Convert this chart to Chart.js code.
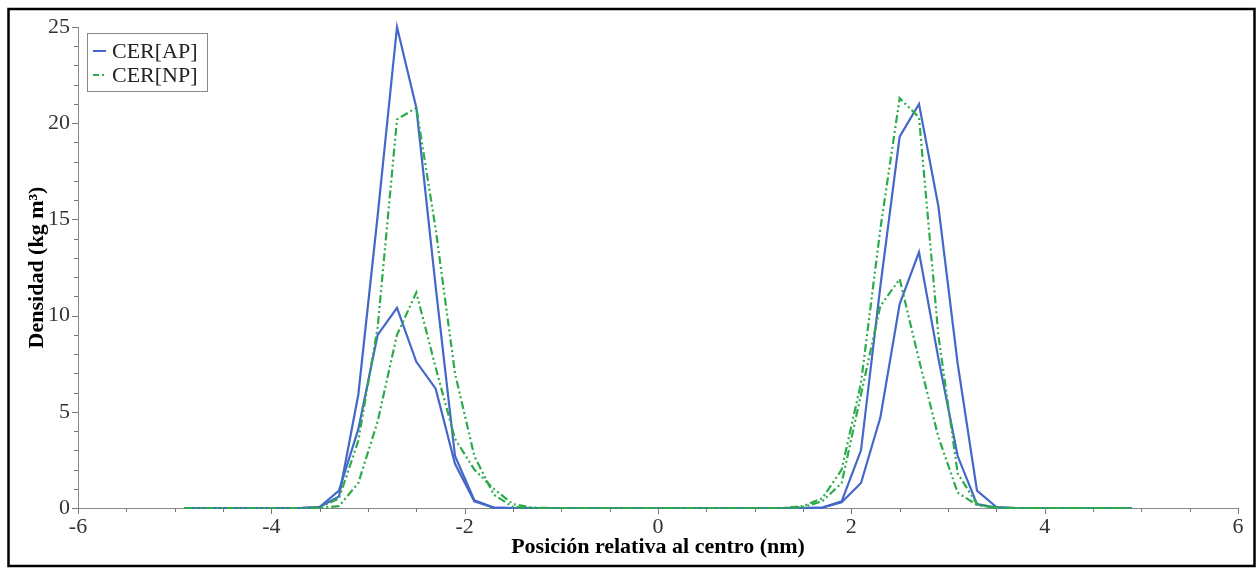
<!DOCTYPE html>
<html>
<head>
<meta charset="utf-8">
<title>Densidad CER</title>
<script src="https://cdn.jsdelivr.net/npm/chart.js@4.4.1/dist/chart.umd.min.js"></script>
<style>
  html, body { margin: 0; padding: 0; background: #fff; }
  #contenedor { width: 1257px; height: 568px; position: relative; }
</style>
</head>
<body>
<div id="contenedor"><canvas id="grafica"></canvas></div>
<script>
// posiciones (nm)
const posiciones = [
  -4.9, -4.7, -4.5, -4.3, -4.1, -3.9, -3.7, -3.5, -3.3, -3.1,
  -2.9, -2.7, -2.5, -2.3, -2.1, -1.9, -1.7, -1.5, -1.3, -1.1,
  -0.9, -0.7, -0.5, -0.3, -0.1, 0.1, 0.3, 0.5, 0.7, 0.9,
  1.1, 1.3, 1.5, 1.7, 1.9, 2.1, 2.3, 2.5, 2.7, 2.9,
  3.1, 3.3, 3.5, 3.7, 3.9, 4.1, 4.3, 4.5, 4.7, 4.9
];

// CER[AP], curva alta y curva baja
const apAlta = [
  0, 0, 0, 0, 0, 0, 0, 0.05, 0.6, 5.9,
  15.2, 25.0, 20.8, 11.5, 2.7, 0.4, 0.02, 0, 0, 0,
  0, 0, 0, 0, 0, 0, 0, 0, 0, 0,
  0, 0, 0, 0.02, 0.35, 3.0, 11.5, 19.3, 21.0, 15.7,
  7.5, 0.9, 0.05, 0, 0, 0, 0, 0, 0, 0
];
const apBaja = [
  0, 0, 0, 0, 0, 0, 0, 0.05, 0.9, 4.1,
  9.0, 10.4, 7.6, 6.2, 2.3, 0.35, 0.02, 0, 0, 0,
  0, 0, 0, 0, 0, 0, 0, 0, 0, 0,
  0, 0, 0, 0.02, 0.3, 1.3, 4.7, 10.6, 13.3, 7.8,
  2.7, 0.2, 0.02, 0, 0, 0, 0, 0, 0, 0
];

// CER[NP], curva alta y curva baja
const npAlta = [
  0, 0, 0, 0, 0, 0, 0, 0.02, 0.5, 3.5,
  9.4, 20.2, 20.8, 14.5, 7.0, 2.7, 0.7, 0.05, 0, 0,
  0, 0, 0, 0, 0, 0, 0, 0, 0, 0,
  0, 0, 0.1, 0.5, 2.0, 6.5, 14.5, 21.3, 20.3, 9.0,
  1.8, 0.2, 0.02, 0, 0, 0, 0, 0, 0, 0
];
const npBaja = [
  0, 0, 0, 0, 0, 0, 0, 0, 0.1, 1.3,
  4.5, 9.0, 11.2, 7.3, 3.6, 2.0, 1.0, 0.2, 0.02, 0,
  0, 0, 0, 0, 0, 0, 0, 0, 0, 0,
  0, 0, 0.05, 0.35, 1.3, 5.9, 10.5, 11.9, 7.7, 3.7,
  0.8, 0.15, 0, 0, 0, 0, 0, 0, 0, 0
];

const etiquetas = ['CER[AP]', 'CER[NP]'];

const AZUL = '#4468c8';
const VERDE = '#2bab4b';
const TRAZO_NP = [8, 3, 2, 3, 2, 3];
const FUENTE = "'Liberation Serif', 'Times New Roman', serif";

function puntos(valores) {
  return posiciones.map((x, i) => ({ x, y: valores[i] }));
}

function serie(valores, color, trazo, orden) {
  return {
    data: puntos(valores),
    borderColor: color,
    borderWidth: 2.2,
    borderDash: trazo,
    pointRadius: 0,
    tension: 0,
    fill: false,
    clip: false,
    order: orden
  };
}

// marco exterior, marcas de ejes y leyenda
const decorado = {
  id: 'decorado',
  afterDraw(chart) {
    const { ctx, scales: { x, y } } = chart;
    ctx.save();

    ctx.strokeStyle = '#777';
    ctx.lineWidth = 1;
    ctx.beginPath();
    x.ticks.forEach(t => {
      const px = Math.round(x.getPixelForValue(t.value)) + 0.5;
      const mayor = Math.abs(t.value % 2) < 1e-6;
      ctx.moveTo(px, x.top);
      ctx.lineTo(px, x.top + (mayor ? 6 : 4));
    });
    y.ticks.forEach(t => {
      const py = Math.round(y.getPixelForValue(t.value)) + 0.5;
      const mayor = t.value % 5 === 0;
      ctx.moveTo(y.right, py);
      ctx.lineTo(y.right - (mayor ? 6 : 4), py);
    });
    ctx.stroke();

    // leyenda
    ctx.fillStyle = '#fff';
    ctx.fillRect(87, 33, 120, 58);
    ctx.strokeStyle = '#888';
    ctx.strokeRect(87.5, 33.5, 120, 58);

    ctx.lineWidth = 2;
    ctx.strokeStyle = AZUL;
    ctx.setLineDash([]);
    ctx.beginPath();
    ctx.moveTo(93, 51);
    ctx.lineTo(106, 51);
    ctx.stroke();

    ctx.strokeStyle = VERDE;
    ctx.setLineDash([6, 3, 2, 3]);
    ctx.beginPath();
    ctx.moveTo(93, 75);
    ctx.lineTo(107, 75);
    ctx.stroke();
    ctx.setLineDash([]);

    ctx.fillStyle = '#222';
    ctx.font = '22px ' + FUENTE;
    ctx.textBaseline = 'middle';
    ctx.fillText(etiquetas[0], 112, 52);
    ctx.fillText(etiquetas[1], 112, 76);

    // marco
    ctx.strokeStyle = '#000';
    ctx.lineWidth = 2.5;
    ctx.strokeRect(8.5, 9, 1246, 557);
    ctx.restore();
  }
};

new Chart(document.getElementById('grafica'), {
  type: 'line',
  data: {
    datasets: [
      serie(npAlta, VERDE, TRAZO_NP, 1),
      serie(npBaja, VERDE, TRAZO_NP, 1),
      serie(apAlta, AZUL, [], 2),
      serie(apBaja, AZUL, [], 2)
    ]
  },
  options: {
    responsive: true,
    maintainAspectRatio: false,
    animation: false,
    layout: { padding: { top: 27, right: 19, bottom: 0, left: 0 } },
    plugins: {
      legend: { display: false },
      tooltip: { enabled: false }
    },
    scales: {
      x: {
        type: 'linear',
        min: -6,
        max: 6,
        afterFit: s => { s.height = 60; },
        grid: { drawOnChartArea: false, drawTicks: false },
        border: { display: true, color: '#888', width: 1 },
        ticks: {
          stepSize: 0.5,
          autoSkip: false,
          maxRotation: 0,
          padding: 6,
          color: '#333',
          font: { family: FUENTE, size: 22 },
          callback: v => (Math.abs(v % 2) < 1e-6 ? String(v) : '')
        },
        title: {
          display: true,
          text: 'Posición relativa al centro (nm)',
          color: '#000',
          font: { family: FUENTE, size: 22, weight: 'bold' },
          padding: { top: 0, bottom: 7 }
        }
      },
      y: {
        min: 0,
        max: 25,
        afterFit: s => { s.width = 78; },
        grid: { drawOnChartArea: false, drawTicks: false },
        border: { display: true, color: '#888', width: 1 },
        ticks: {
          stepSize: 1,
          autoSkip: false,
          padding: 8,
          color: '#333',
          font: { family: FUENTE, size: 22 },
          callback: v => (v % 5 === 0 ? String(v) : '')
        },
        title: {
          display: true,
          text: 'Densidad (kg m³)',
          color: '#000',
          font: { family: FUENTE, size: 22, weight: 'bold' },
          padding: { top: 24, bottom: 0 }
        }
      }
    }
  },
  plugins: [decorado]
});
</script>
</body>
</html>
